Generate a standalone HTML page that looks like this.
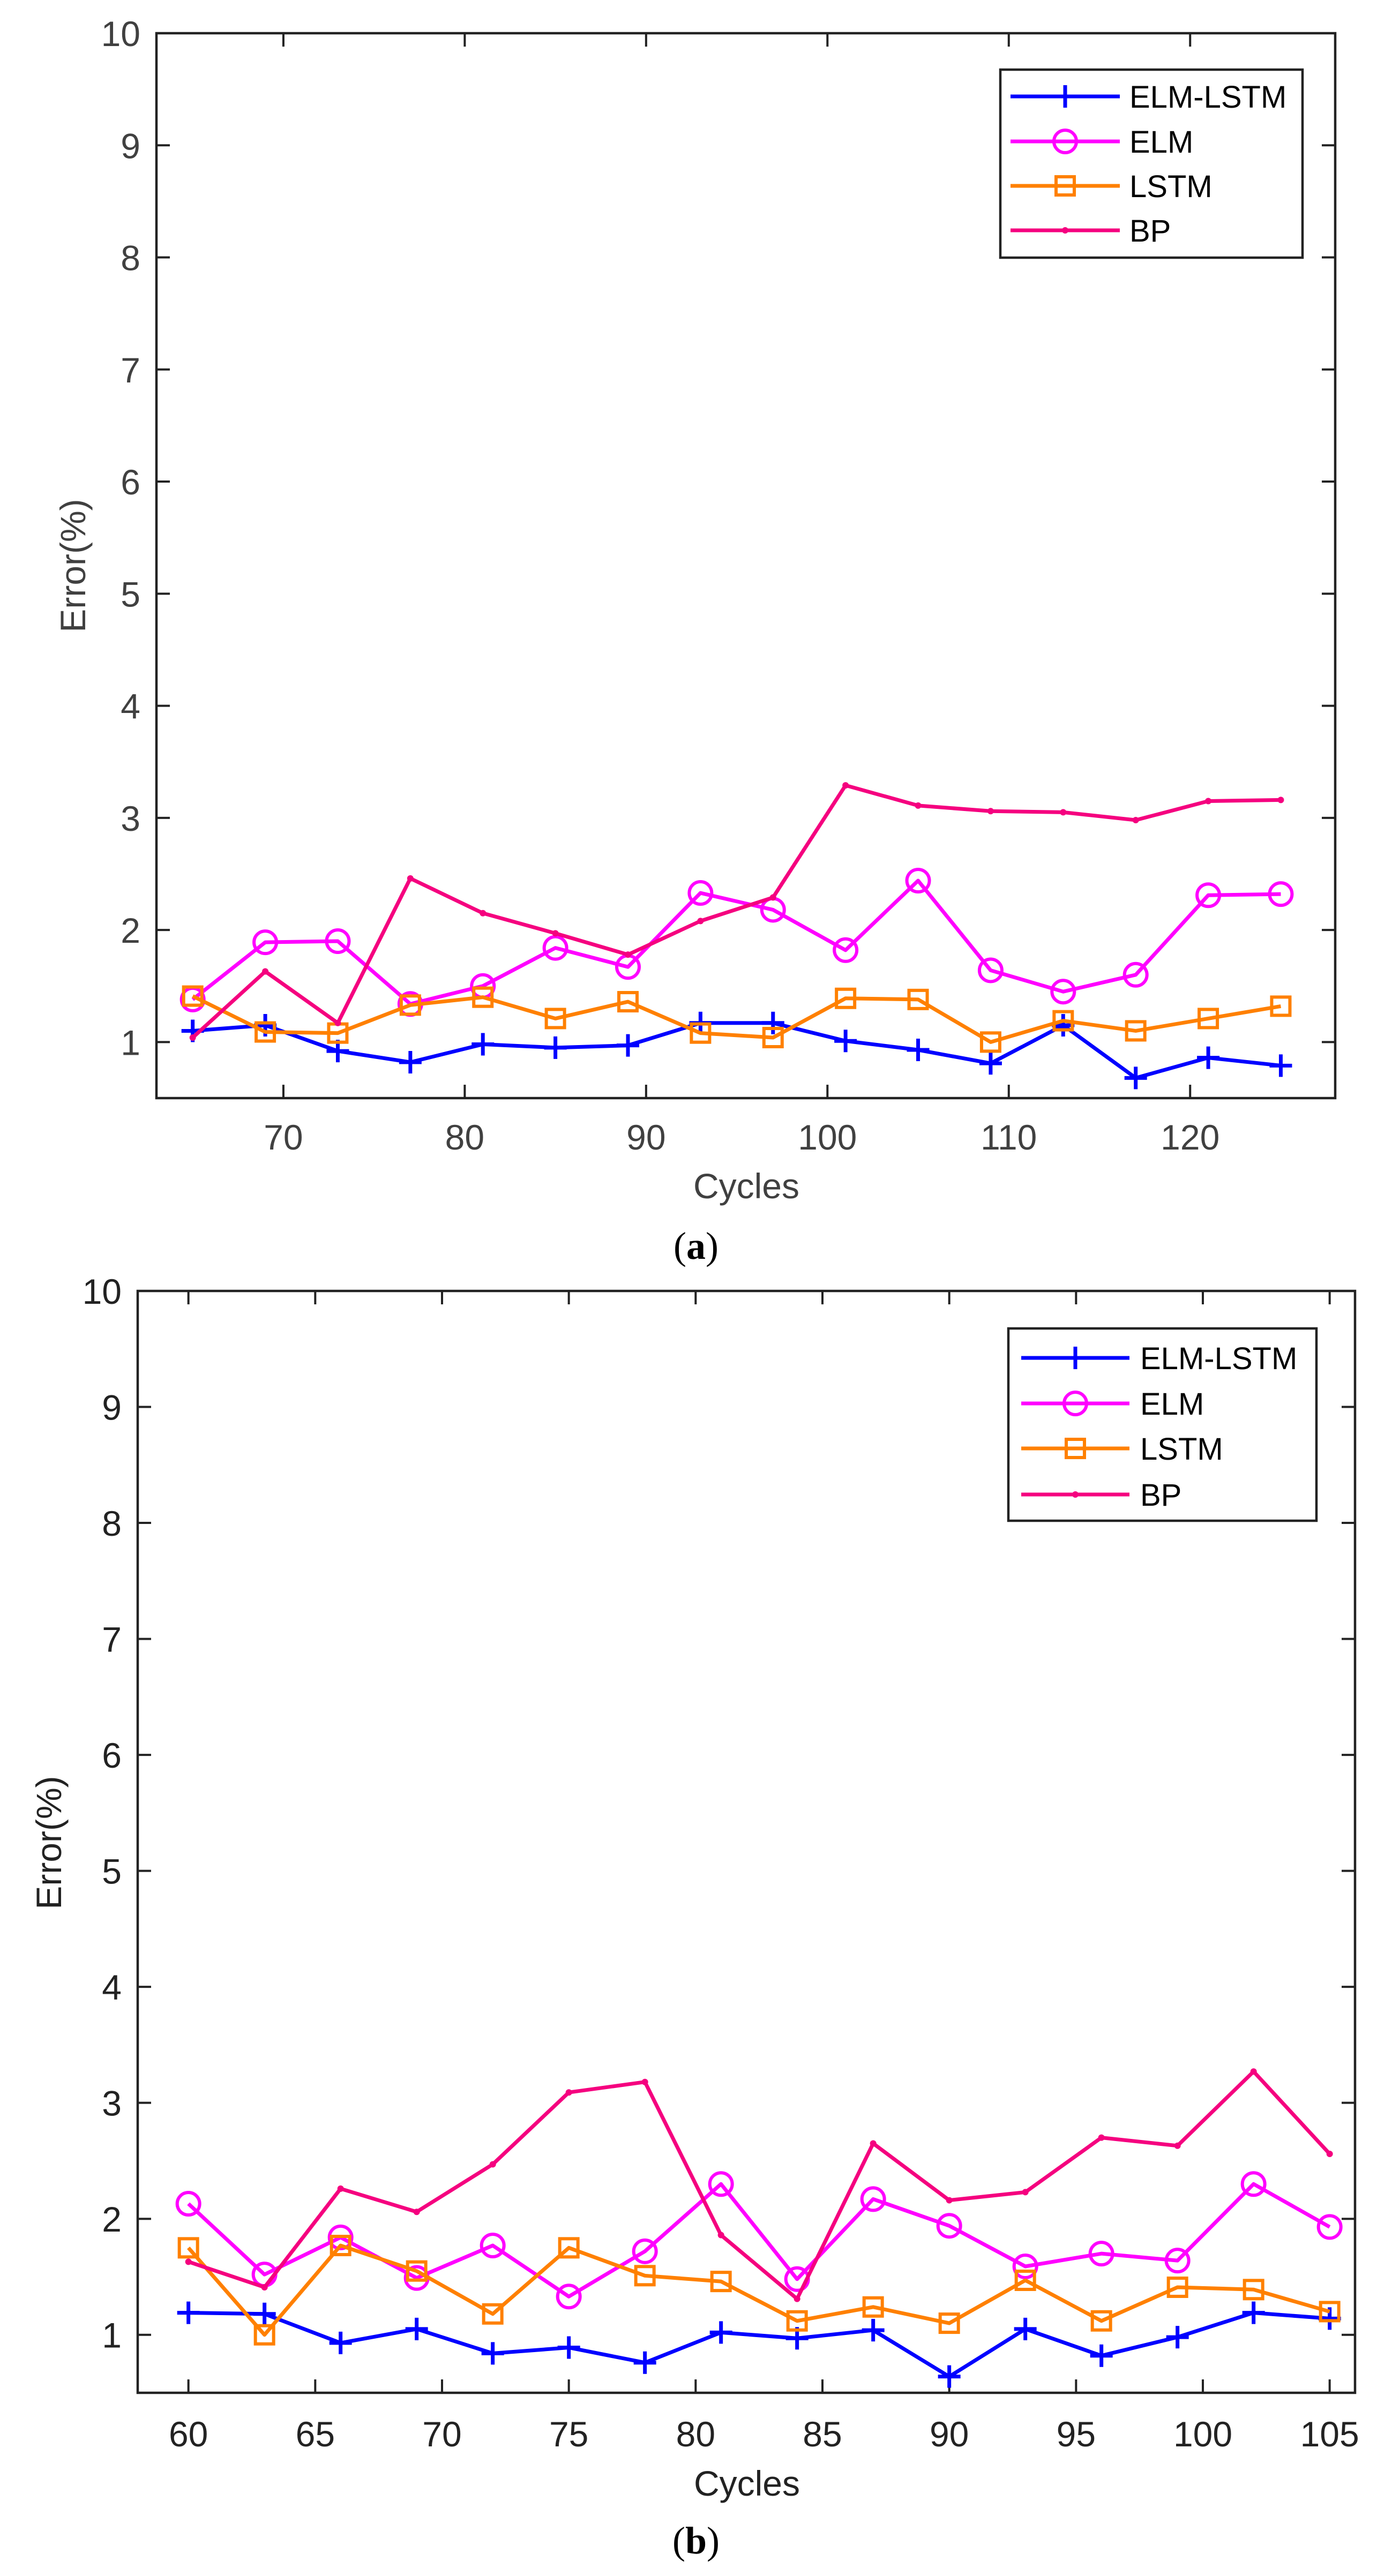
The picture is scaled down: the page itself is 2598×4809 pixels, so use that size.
<!DOCTYPE html>
<html><head><meta charset="utf-8"><style>
html,body{margin:0;padding:0;background:#fff;}
svg{display:block;}
text{font-family:"Liberation Sans",Arial,sans-serif;}
</style></head><body>
<svg id="fig" width="2598" height="4809" viewBox="0 0 2598 4809" xmlns="http://www.w3.org/2000/svg"></svg>
<script>
// ---- Chart (a) data ----
const cyclesA = [65,69,73,77,81,85,89,93,97,101,105,109,113,117,121,125];
const elmLstmA = [1.10,1.15,0.92,0.82,0.98,0.95,0.97,1.17,1.17,1.01,0.93,0.81,1.15,0.68,0.86,0.79];
const elmA = [1.38,1.89,1.90,1.34,1.50,1.84,1.67,2.33,2.18,1.82,2.44,1.64,1.45,1.60,2.31,2.32];
const lstmA = [1.41,1.09,1.08,1.33,1.40,1.21,1.36,1.08,1.04,1.39,1.38,1.00,1.19,1.10,1.21,1.32];
const bpA = [1.04,1.63,1.17,2.46,2.15,1.97,1.78,2.08,2.29,3.29,3.11,3.06,3.05,2.98,3.15,3.16];
const xTicksA = [70,80,90,100,110,120];
// ---- Chart (b) data ----
const cyclesB = [60,63,66,69,72,75,78,81,84,87,90,93,96,99,102,105];
const elmLstmB = [1.19,1.18,0.93,1.05,0.84,0.89,0.76,1.02,0.97,1.04,0.64,1.05,0.82,0.98,1.19,1.14];
const elmB = [2.13,1.52,1.84,1.49,1.77,1.33,1.72,2.30,1.48,2.17,1.94,1.59,1.70,1.64,2.30,1.93];
const lstmB = [1.75,1.00,1.77,1.55,1.18,1.75,1.51,1.46,1.12,1.24,1.10,1.47,1.12,1.41,1.39,1.20];
const bpB = [1.63,1.41,2.26,2.06,2.47,3.09,3.18,1.86,1.31,2.65,2.16,2.23,2.70,2.63,3.27,2.56];
const xTicksB = [60,65,70,75,80,85,90,95,100,105];
const yTicks = [1,2,3,4,5,6,7,8,9,10];
const seriesNames = ["ELM-LSTM","ELM","LSTM","BP"];

const NS="http://www.w3.org/2000/svg";
const svg=document.getElementById('fig');
function mk(tag,attrs,parent){const e=document.createElementNS(NS,tag);for(const k in attrs)e.setAttribute(k,attrs[k]);(parent||svg).appendChild(e);return e;}

const COL={ "ELM-LSTM":"#0000ff","ELM":"#ff00ff","LSTM":"#ff8000","BP":"#f5007f"};

function marker(g,type,x,y,c){
  if(type==="ELM-LSTM"){
    const m=mk('path',{d:`M${x-21},${y}H${x+21}M${x},${y-21}V${y+21}`,stroke:c,'stroke-width':7,fill:'none'},g);
    
    
  }else if(type==="ELM"){
    const m=mk('circle',{cx:x,cy:y,r:21,stroke:c,'stroke-width':6,fill:'none'},g);
    
    
  }else if(type==="LSTM"){
    const m=mk('rect',{x:x-17,y:y-17,width:34,height:34,stroke:c,'stroke-width':6,fill:'none'},g);
    
    
  }else{
    const m=mk('circle',{cx:x,cy:y,r:6,fill:c},g);
    
    
  }
}

function chart(cfg){
  const {L,R,T,B,xmin,xmax,ymin,ymax,xs,series,xticks,tc,label,ylab,xlabY,tickY,capY,leg,id}=cfg;
  const g=mk('g',{});
  
  
  const sx=v=>L+(v-xmin)/(xmax-xmin)*(R-L);
  const sy=v=>B-(v-ymin)/(ymax-ymin)*(B-T);
  // ticks
  const tl=25;
  yTicks.forEach(v=>{
    const y=sy(v);
    const t=mk('path',{d:`M${L},${y}h${tl}M${R},${y}h${-tl}`,stroke:'#222','stroke-width':4},g);
    
    
    const tx=mk('text',{x:L-30,y:y+24,'font-size':66,'text-anchor':'end',fill:tc},g);
    tx.textContent=v;
    
    
  });
  xticks.forEach(v=>{
    const x=sx(v);
    const t=mk('path',{d:`M${x},${B}v${-tl}M${x},${T}v${tl}`,stroke:'#222','stroke-width':4},g);
    
    
    const tx=mk('text',{x:x,y:tickY+24,'font-size':66,'text-anchor':'middle',fill:tc},g);
    tx.textContent=v;
    
    
  });
  // series
  series.forEach((vals,i)=>{
    const nm=seriesNames[i];const c=COL[nm];
    const sg=mk('g',{},g);
    
    
    const pts=vals.map((v,j)=>sx(xs[j])+','+sy(v)).join(' ');
    const pl=mk('polyline',{points:pts,fill:'none',stroke:c,'stroke-width':7,'stroke-linejoin':'round'},sg);
    
    
    vals.forEach((v,j)=>marker(sg,nm,sx(xs[j]),sy(v),c));
  });
  // frame
  const fr=mk('rect',{x:L,y:T,width:R-L,height:B-T,fill:'none',stroke:'#222','stroke-width':4.5},g);
  
  
  // labels
  const xl=mk('text',{x:(L+R)/2+1,y:xlabY+24,'font-size':66,'text-anchor':'middle',fill:tc},g);
  xl.textContent='Cycles';
  
  
  const yl=mk('text',{x:0,y:0,'font-size':66,'text-anchor':'middle',fill:tc,transform:`translate(${ylab[0]+23},${ylab[1]}) rotate(-90)`},g);
  yl.textContent='Error(%)';
  
  
  const cp=mk('text',{x:1299,y:capY+24,'font-size':72,'text-anchor':'middle',fill:'#000',style:'font-family:"Liberation Serif",serif'},g);
  cp.innerHTML='(<tspan font-weight="bold">'+label+'</tspan>)';
  
  
  // legend
  const lg=mk('g',{},g);
  
  
  const lb=mk('rect',{x:leg.x,y:leg.y,width:leg.w,height:leg.h,fill:'#fff',stroke:'#222','stroke-width':4.5},lg);
  
  
  seriesNames.forEach((nm,i)=>{
    const y=leg.ys[i];const c=COL[nm];
    const eg=mk('g',{},lg);
    
    
    mk('line',{x1:leg.lx1,x2:leg.lx2,y1:y,y2:y,stroke:c,'stroke-width':7},eg);
    marker(eg,nm,(leg.lx1+leg.lx2)/2,y,c);
    const t=mk('text',{x:leg.tx,y:y+21,'font-size':58,fill:'#000'},eg);
    t.textContent=nm;
    
    
  });
}

chart({id:'a',L:292,R:2492,T:62,B:2050,xmin:63,xmax:128,ymin:0.5,ymax:10,xs:cyclesA,
  series:[elmLstmA,elmA,lstmA,bpA],xticks:xTicksA,tc:'#404040',label:'a',
  ylab:[136,1056],xlabY:2213,tickY:2122,capY:2326,
  leg:{x:1867,y:130,w:564,h:351,ys:[180,264,347,430],lx1:1886,lx2:2090,tx:2108}});
chart({id:'b',L:257,R:2529,T:2410,B:4467,xmin:58,xmax:106,ymin:0.5,ymax:10,xs:cyclesB,
  series:[elmLstmB,elmB,lstmB,bpB],xticks:xTicksB,tc:'#222',label:'b',
  ylab:[91,3440],xlabY:4635,tickY:4543,capY:4743,
  leg:{x:1882,y:2480,w:575,h:359,ys:[2535,2620,2704,2790],lx1:1906,lx2:2108,tx:2128}});
</script>
</body></html>
